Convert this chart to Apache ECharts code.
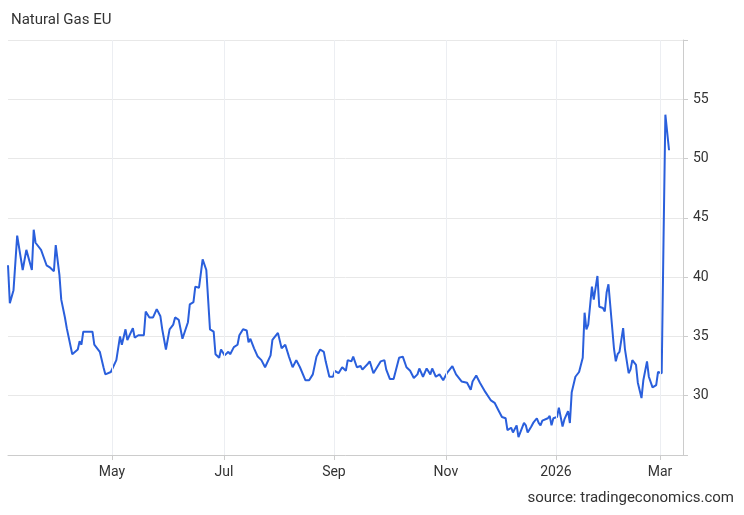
<!DOCTYPE html><html><head><meta charset="utf-8"><script src="https://cdn.jsdelivr.net/npm/echarts@6/dist/echarts.min.js"></script>
<style>body{margin:0}#c{width:744px;height:515px}</style></head><body><div id="c"></div><script>
const days=[0,1,3,5,8,10,13,14,15,18,21,23,25,26,28,29,31,32,33,35,36,38,39,40,41,46,47,50,52,53,56,57,59,61,62,64,65,68,69,71,74,75,77,79,81,83,84,86,88,90,91,93,95,98,99,101,102,104,106,108,110,112,113,115,116,118,120,121,123,125,126,128,130,131,132,134,136,138,140,143,144,147,148,149,151,153,155,157,159,160,162,164,166,168,170,172,173,175,177,178,180,182,184,185,187,188,190,192,193,196,197,199,201,203,205,206,208,210,211,213,215,217,219,221,223,224,226,228,230,231,233,235,237,239,242,244,247,250,252,253,255,257,258,260,263,265,267,269,271,272,274,275,277,278,279,281,282,283,285,286,288,289,290,291,294,295,296,297,299,300,302,303,305,306,307,309,311,313,314,315,316,318,319,321,322,324,325,326,327,330,331,332,333,335,336,338,339,340,342,343,345,346,348,349,350,351,353,354,356,357,358,360];
const values=[41.0,37.8,38.9,43.5,40.6,42.3,40.6,44.0,42.9,42.3,41.0,40.8,40.5,42.7,40.2,38.1,36.6,35.7,35.6,33.5,33.4,33.9,34.6,34.3,35.4,35.4,34.3,33.7,32.4,31.8,32.0,32.0,33.0,35.0,34.3,35.6,34.7,35.7,34.9,35.1,35.1,37.1,36.6,36.6,37.3,36.7,35.6,33.9,35.6,36.0,36.6,36.4,34.8,36.2,37.7,37.9,39.2,39.1,41.5,40.6,35.6,35.4,33.5,33.2,33.9,33.4,33.7,33.5,34.1,34.3,35.1,35.6,35.5,34.5,34.8,34.0,33.3,33.0,32.4,33.4,34.7,35.3,35.3,34.0,34.3,33.3,32.4,33.0,32.4,32.5,31.3,31.3,31.8,33.3,33.9,33.7,32.9,31.6,31.6,32.1,31.9,32.4,32.1,33.0,32.9,33.3,32.4,32.5,32.2,32.7,32.9,31.9,32.4,32.9,33.0,32.2,31.4,31.4,31.4,33.2,33.3,32.4,32.1,31.5,31.8,32.3,31.6,32.3,31.8,32.3,31.6,31.8,31.3,31.9,32.5,31.8,31.2,31.1,30.5,31.2,31.7,31.1,31.1,30.3,29.6,29.4,28.8,28.2,28.1,27.1,27.3,26.9,27.5,26.5,26.9,27.7,27.5,26.9,27.4,27.7,28.1,27.7,27.5,27.9,28.1,28.3,27.5,28.1,28.2,29.0,27.4,28.0,28.7,27.7,30.3,31.6,32.0,33.2,37.0,35.6,36.0,39.2,38.1,40.1,37.5,37.4,37.1,38.7,39.4,34.0,32.9,33.5,33.7,35.7,33.9,31.9,32.2,33.0,32.6,31.1,29.8,31.3,32.9,31.6,31.5,30.7,30.9,32.0,31.9,43.2,53.7,50.7];
const tickPos=[56.6,117.6,177.5,238.5,298.4,355.1];
const tickLabels=['May','Jul','Sep','Nov','2026','Mar'];
const yTicks=[30,35,40,45,50,55];
const chart=echarts.init(document.getElementById('c'));
chart.setOption({
 animation:false,
 title:{text:'Natural Gas EU',left:6,top:8,textStyle:{fontSize:15,fontWeight:'normal',color:'#333',fontFamily:'Roboto'}},
 graphic:[{type:'text',right:10,bottom:9,style:{text:'source: tradingeconomics.com',fontSize:15,fill:'#333',fontFamily:'Roboto'}}],
 grid:{left:8,right:61,top:40,bottom:60},
 xAxis:{type:'value',min:0,max:367.6,
  axisLine:{onZero:false,lineStyle:{color:'#ccc'}},
  axisTick:{customValues:tickPos,lineStyle:{color:'#ccc'}},
  axisLabel:{customValues:tickPos,formatter:v=>{let i=tickPos.indexOf(v);return i>=0?tickLabels[i]:''},color:'#333',fontSize:14,fontFamily:'Roboto',margin:10},
  splitLine:{show:false}},
 yAxis:{type:'value',position:'right',min:25,max:60,interval:5,
  axisLine:{show:true,onZero:false,lineStyle:{color:'#ccc'}},
  axisTick:{show:true,lineStyle:{color:'#ccc'}},
  axisLabel:{formatter:v=>yTicks.includes(v)?String(v):'',color:'#333',fontSize:14,fontFamily:'Roboto',margin:10},
  splitLine:{lineStyle:{color:'#e8e8e8'}}},
 series:[{type:'line',data:days.map((d,i)=>[d,values[i]]),showSymbol:false,lineStyle:{color:'#2a5fdc',width:2},itemStyle:{color:'#2a5fdc'},
  markLine:{silent:true,symbol:'none',label:{show:false},lineStyle:{color:'#eceef2',type:'solid',width:1},data:tickPos.map(p=>({xAxis:p}))}}]
});
</script></body></html>
